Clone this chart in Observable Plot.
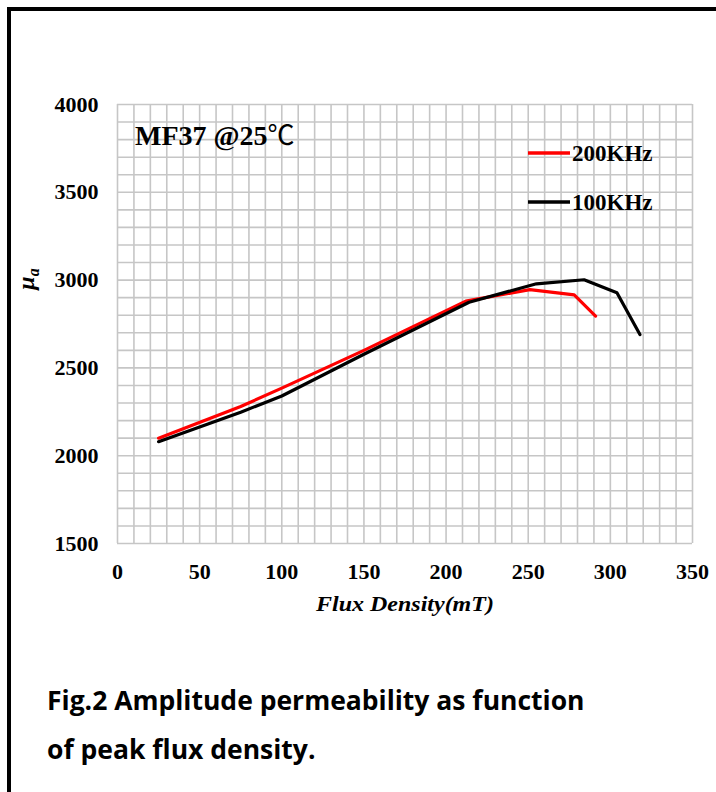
<!DOCTYPE html>
<html>
<head>
<meta charset="utf-8">
<script src="https://cdn.jsdelivr.net/npm/d3@7"></script>
<script src="https://cdn.jsdelivr.net/npm/@observablehq/plot@0.6"></script>
<style>
  html, body { margin: 0; padding: 0; background: #fff; }
  #wrap { position: relative; width: 716px; height: 792px; overflow: hidden; background: #fff; }
  #frame { position: absolute; left: 7px; top: 7px; width: 720px; height: 800px;
           border-left: 4px solid #000; border-top: 4px solid #000; box-sizing: border-box; pointer-events: none; }
  #chart { position: absolute; left: 0; top: 0; }
  #caption { position: absolute; left: 47px; top: 676px; font-family: "Open Sans", Lato, sans-serif;
             font-weight: bold; font-size: 26.5px; line-height: 49px; color: #000; white-space: nowrap; }
</style>
</head>
<body>
<div id="wrap">
  <div id="chart"></div>
  <div id="frame"></div>
  <div id="caption">Fig.2 Amplitude permeability as function<br>of peak flux density.</div>
</div>
<script>
// ---- data ----
const seriesNames = ["200KHz", "100KHz"];
const seriesColors = ["#ff0000", "#000000"];

const flux200 = [25, 75, 100, 150, 212, 251, 278, 291];
const mu200   = [2100, 2280, 2385, 2600, 2880, 2946, 2916, 2795];

const flux100 = [25, 75, 100, 150, 214, 255, 284, 304, 318];
const mu100   = [2080, 2248, 2340, 2578, 2874, 2979, 3002, 2928, 2690];

const xTicks = [0, 50, 100, 150, 200, 250, 300, 350];
const yTicks = [1500, 2000, 2500, 3000, 3500, 4000];
const xGrid = d3.range(0, 351, 10);
const yGrid = d3.range(1500, 4001, 100);

const rows = [
  ...flux200.map((x, i) => ({series: seriesNames[0], x, y: mu200[i]})),
  ...flux100.map((x, i) => ({series: seriesNames[1], x, y: mu100[i]}))
];

const serif = "'Liberation Serif', 'Times New Roman', serif";

const plot = Plot.plot({
  width: 716,
  height: 660,
  marginLeft: 117,
  marginRight: 24,
  marginTop: 104,
  marginBottom: 117,
  x: {domain: [0, 350]},
  y: {domain: [1500, 4000]},
  color: {domain: seriesNames, range: seriesColors},
  style: {fontFamily: serif, fontSize: "22px", fontWeight: "bold", color: "#000", background: "transparent", overflow: "visible"},
  marks: [
    Plot.ruleX(xGrid, {stroke: "#c6c6c6", strokeWidth: 1.6}),
    Plot.ruleY(yGrid, {stroke: "#c6c6c6", strokeWidth: 1.6}),
    Plot.axisX({ticks: xTicks, tickSize: 0, tickPadding: 20, label: null, tickFormat: d3.format("d")}),
    Plot.axisY({ticks: yTicks, tickSize: 0, tickPadding: 19, label: null, tickFormat: d3.format("d")}),
    Plot.line(rows, {x: "x", y: "y", z: "series", stroke: "series", strokeWidth: 3.2, strokeLinejoin: "round"})
  ]
});

document.getElementById("chart").appendChild(plot);

const svg = d3.select(plot);

// Annotation
const ann = svg.append("text")
  .attr("x", 135).attr("y", 145)
  .attr("text-anchor", "start")
  .attr("font-family", serif).attr("font-size", 28).attr("font-weight", "bold")
  .attr("fill", "#000");
ann.append("tspan").text("MF37 @25");
ann.append("tspan")
  .attr("font-family", "'Noto Sans CJK SC', 'Noto Sans CJK JP', sans-serif")
  .attr("font-weight", "normal").attr("font-size", 27)
  .text("℃");

// Legend
const legend = svg.append("g");
seriesNames.forEach((name, i) => {
  const yy = 153 + i * 49;
  legend.append("line")
    .attr("x1", 528).attr("x2", 570).attr("y1", yy).attr("y2", yy)
    .attr("stroke", seriesColors[i]).attr("stroke-width", 3.5);
  legend.append("text")
    .attr("x", 572).attr("y", yy + 8)
    .attr("text-anchor", "start")
    .attr("font-family", serif).attr("font-size", 23).attr("font-weight", "bold")
    .attr("fill", "#000")
    .text(name);
});

// Axis titles
svg.append("text")
  .attr("transform", "translate(405,611) scale(1.09,1)")
  .attr("text-anchor", "middle")
  .attr("font-family", serif).attr("font-size", 22).attr("font-weight", "bold").attr("font-style", "italic")
  .attr("fill", "#000")
  .text("Flux Density(mT)");

const yl = svg.append("text")
  .attr("transform", "translate(34,279) rotate(-90)")
  .attr("text-anchor", "middle")
  .attr("font-family", serif).attr("font-size", 24).attr("font-weight", "bold").attr("font-style", "italic")
  .attr("fill", "#000");
yl.append("tspan").text("μ");
yl.append("tspan").attr("font-size", 16).attr("dy", 5).text("a");
</script>
</body>
</html>
